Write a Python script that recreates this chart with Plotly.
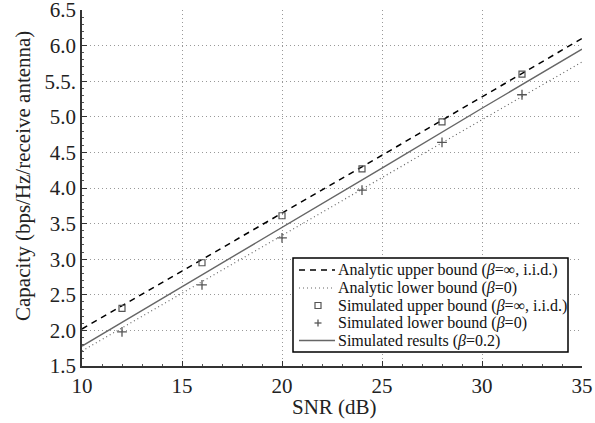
import plotly.graph_objects as go

# Analytic / simulated curves (SNR in dB)
snr_line = [10, 15, 20, 25, 30, 35]
analytic_upper = [2.02, 2.83, 3.65, 4.46, 5.28, 6.10]
analytic_lower = [1.71, 2.52, 3.33, 4.15, 4.96, 5.77]
sim_results = [1.78, 2.61, 3.45, 4.28, 5.12, 5.95]

snr_pts = [12, 16, 20, 24, 28, 32]
sim_upper = [2.31, 2.95, 3.61, 4.27, 4.93, 5.60]
sim_lower = [1.98, 2.64, 3.30, 3.97, 4.64, 5.31]

x_ticks = [10, 15, 20, 25, 30, 35]
y_ticks = [1.5, 2.0, 2.5, 3.0, 3.5, 4.0, 4.5, 5.0, 5.5, 6.0, 6.5]
y_ticktext = ["1.5", "2.0", "2.5", "3.0", "3.5", "4.0", "4.5", "5.0", "5.5.", "6.0", "6.5"]

B = "<i>β</i>"
legend_names = [
    f"Analytic upper bound ({B}=∞, i.i.d.)",
    f"Analytic lower bound ({B}=0)",
    f"Simulated upper bound ({B}=∞, i.i.d.)",
    f"Simulated lower bound ({B}=0)",
    f"Simulated results ({B}=0.2)",
]
x_title = "SNR (dB)"
y_title = "Capacity (bps/Hz/receive antenna)"

FONT = "Liberation Serif, Times New Roman, serif"

# page geometry (body margin removed via post_script)
W, H = 595, 423
PL, PT, PR, PB = 82, 10, 582, 366          # plot area in page pixels
ML, MT = PL, PT
MR, MB = W - PR, H - PB
PW, PH = PR - PL, PB - PT


def px(x):
    return (x - PL) / PW


def py(y):
    return (PB - y) / PH


fig = go.Figure()
fig.add_trace(go.Scatter(x=snr_line, y=analytic_upper, mode="lines",
                         name=legend_names[0],
                         line=dict(color="black", width=1.5, dash="6px,5px")))
fig.add_trace(go.Scatter(x=snr_line, y=analytic_lower, mode="lines",
                         name=legend_names[1],
                         line=dict(color="#666666", width=1.2, dash="1px,3px")))
fig.add_trace(go.Scatter(x=snr_pts, y=sim_upper, mode="markers",
                         name=legend_names[2],
                         marker=dict(symbol="square-open", size=6, color="#555555",
                                     line=dict(width=1.2, color="#555555"))))
fig.add_trace(go.Scatter(x=snr_pts, y=sim_lower, mode="markers",
                         name=legend_names[3],
                         marker=dict(symbol="cross-thin-open", size=7, color="#555555",
                                     line=dict(width=1.3, color="#555555"))))
fig.add_trace(go.Scatter(x=snr_line, y=sim_results, mode="lines",
                         name=legend_names[4],
                         line=dict(color="#666666", width=1.4)))

# ---- hand-built legend (compact like the original) ----
shapes = []
annotations = []
box_l, box_r, box_t, box_b = 293, 568, 258, 352
shapes.append(dict(type="rect", xref="paper", yref="paper",
                   x0=px(box_l), x1=px(box_r), y0=py(box_b), y1=py(box_t),
                   line=dict(color="black", width=1.5), fillcolor="white", layer="above"))
row_y = [270, 288, 305.5, 323, 340.5]
text_x = 336
sample_x0, sample_x1 = 299, 335
mark_x = 318
styles = [
    dict(kind="line", color="black", width=1.5, dash="6px,5px"),
    dict(kind="line", color="#666666", width=1.2, dash="1px,3px"),
    dict(kind="square"),
    dict(kind="plus"),
    dict(kind="line", color="#666666", width=1.4, dash="solid"),
]
for name, yy, st in zip(legend_names, row_y, styles):
    if st["kind"] == "line":
        shapes.append(dict(type="line", xref="paper", yref="paper",
                           x0=px(sample_x0), x1=px(sample_x1), y0=py(yy), y1=py(yy),
                           line=dict(color=st["color"], width=st["width"], dash=st["dash"]),
                           layer="above"))
    elif st["kind"] == "square":
        shapes.append(dict(type="rect", xref="paper", yref="paper",
                           x0=px(mark_x - 3), x1=px(mark_x + 3), y0=py(yy + 3), y1=py(yy - 3),
                           line=dict(color="#555555", width=1.2), layer="above"))
    else:
        shapes.append(dict(type="line", xref="paper", yref="paper",
                           x0=px(mark_x - 3.5), x1=px(mark_x + 3.5), y0=py(yy), y1=py(yy),
                           line=dict(color="#555555", width=1.3), layer="above"))
        shapes.append(dict(type="line", xref="paper", yref="paper",
                           x0=px(mark_x), x1=px(mark_x), y0=py(yy + 3.5), y1=py(yy - 3.5),
                           line=dict(color="#555555", width=1.3), layer="above"))
    annotations.append(dict(xref="paper", yref="paper", x=px(text_x), y=py(yy),
                            xanchor="left", yanchor="middle", showarrow=False,
                            text=name, font=dict(family=FONT, size=16, color="#111111")))

# axis titles placed as in the original
annotations.append(dict(xref="paper", yref="paper", x=px(334), y=py(407),
                        xanchor="center", yanchor="middle", showarrow=False,
                        text=x_title, font=dict(family=FONT, size=21, color="#222222")))
annotations.append(dict(xref="paper", yref="paper", x=px(23), y=py(176),
                        xanchor="center", yanchor="middle", showarrow=False, textangle=-90,
                        text=y_title, font=dict(family=FONT, size=21, color="#222222")))

fig.update_layout(
    width=W, height=H,
    margin=dict(l=ML, r=MR, t=MT, b=MB, autoexpand=False),
    paper_bgcolor="white", plot_bgcolor="white",
    font=dict(family=FONT, color="#222222", size=20),
    showlegend=False,
    shapes=shapes,
    annotations=annotations,
)
fig.update_xaxes(
    range=[10, 35], tickvals=x_ticks, showline=True, linecolor="#333333", linewidth=1.5,
    ticks="inside", ticklen=5, tickcolor="#333333", automargin=False,
    ticklabeloverflow="allow",
    minor=dict(ticks="inside", ticklen=2, dtick=1, tickcolor="#555555"),
    showgrid=True, gridcolor="#999999", griddash="1px,3px", gridwidth=1,
    zeroline=False, tickfont=dict(family=FONT, size=21, color="#222222"),
)
fig.update_yaxes(
    range=[1.5, 6.5], tickvals=y_ticks, ticktext=y_ticktext,
    showline=True, linecolor="#333333", linewidth=1.5,
    ticks="inside", ticklen=5, tickcolor="#333333", automargin=False,
    ticklabeloverflow="allow",
    minor=dict(ticks="inside", ticklen=2, dtick=0.1, tickcolor="#555555"),
    showgrid=True, gridcolor="#999999", griddash="1px,3px", gridwidth=1,
    zeroline=False, tickfont=dict(family=FONT, size=21, color="#222222"),
)

fig.write_html(
    "out.html",
    config={"displayModeBar": False},
    post_script="document.body.style.margin='0';document.body.style.overflow='hidden';",
)
